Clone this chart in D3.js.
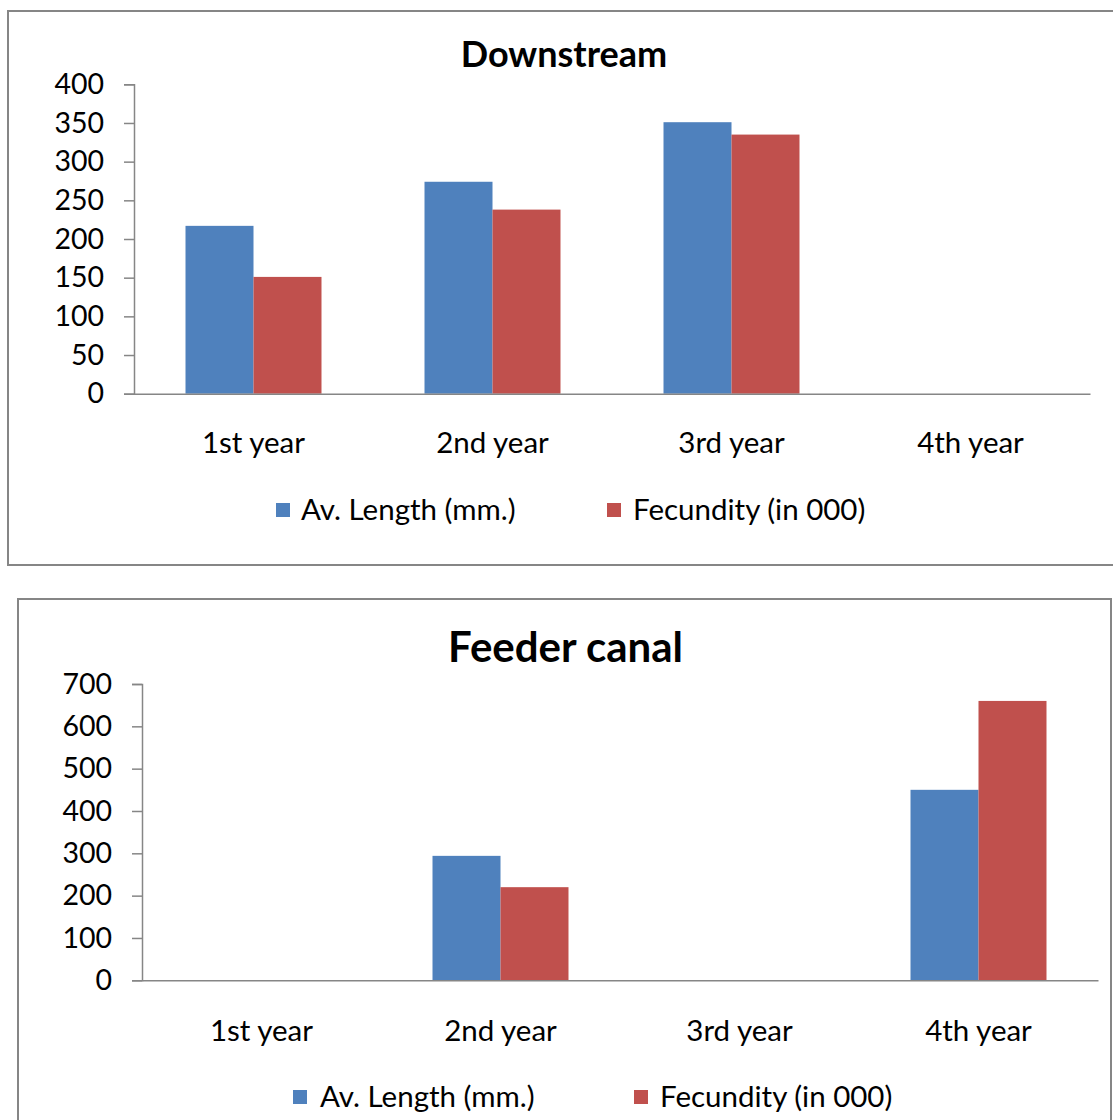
<!DOCTYPE html>
<html>
<head>
<meta charset="utf-8">
<script src="https://cdn.jsdelivr.net/npm/d3@7"></script>
<style>
  html, body { margin: 0; padding: 0; background: #fff; }
  svg { display: block; }
  text { font-family: Lato, "Open Sans", sans-serif; fill: #000; }
</style>
</head>
<body>
<svg id="chart" width="1113" height="1120"></svg>
<script>
// ---- data ----
const categories = ["1st year", "2nd year", "3rd year", "4th year"];
const seriesNames = ["Av. Length (mm.)", "Fecundity (in 000)"];
const seriesColors = ["#4F81BD", "#C0504D"];

const downstreamLength = [217, 274, 351, null];
const downstreamFecundity = [151, 238, 335, null];
const downstreamTicks = [0, 50, 100, 150, 200, 250, 300, 350, 400];

const feederLength = [null, 294, null, 450];
const feederFecundity = [null, 220, null, 660];
const feederTicks = [0, 100, 200, 300, 400, 500, 600, 700];

// ---- layout ----
const panels = [
  {
    title: "Downstream", titleSize: 36, titleX: 564, titleY: 67,
    box: [8, 11, 1120, 554],
    xLeft: 134, xRight: 1090, yTop: 84.3, yBottom: 393.7,
    ticks: downstreamTicks, series: [downstreamLength, downstreamFecundity],
    catY: 453, legendY: 510, legendItems: [[276, 301], [607, 633]]
  },
  {
    title: "Feeder canal", titleSize: 42, titleX: 565.5, titleY: 662,
    box: [18, 599, 1093, 560],
    xLeft: 142, xRight: 1098, yTop: 684, yBottom: 980.3,
    ticks: feederTicks, series: [feederLength, feederFecundity],
    catY: 1041, legendY: 1097, legendItems: [[293, 320], [634, 660]]
  }
];

const svg = d3.select("#chart");
const fontSize = 29.5;
const tickFontSize = 28.5;

panels.forEach(p => {
  const g = svg.append("g");
  // frame
  g.append("rect")
    .attr("x", p.box[0]).attr("y", p.box[1])
    .attr("width", p.box[2]).attr("height", p.box[3])
    .attr("fill", "#fff").attr("stroke", "#868686").attr("stroke-width", 2);

  const x0 = d3.scaleBand().domain(categories)
    .range([p.xLeft, p.xRight]).paddingInner(0.431).paddingOuter(0.2155);
  const x1 = d3.scaleBand().domain(d3.range(p.series.length))
    .range([0, x0.bandwidth()]);
  const y = d3.scaleLinear().domain([0, d3.max(p.ticks)])
    .range([p.yBottom, p.yTop]);

  // bars
  p.series.forEach((vals, si) => {
    g.append("g").selectAll("rect")
      .data(categories.map((c, i) => ({ c, v: vals[i] })).filter(d => d.v != null))
      .join("rect")
      .attr("x", d => x0(d.c) + x1(si))
      .attr("y", d => y(d.v))
      .attr("width", x1.bandwidth())
      .attr("height", d => y(0) - y(d.v))
      .attr("fill", seriesColors[si]);
  });

  // y axis
  const yAxis = d3.axisLeft(y).tickValues(p.ticks).tickSize(10).tickPadding(20)
    .tickFormat(d3.format("d"));
  const ya = g.append("g").attr("transform", `translate(${p.xLeft},0)`).call(yAxis);
  ya.select(".domain").attr("stroke", "#868686").attr("stroke-width", 1.5);
  ya.selectAll(".tick line").attr("stroke", "#868686").attr("stroke-width", 1.5);
  ya.selectAll(".tick text").attr("font-size", tickFontSize)
    .attr("font-family", "Lato, 'Open Sans', sans-serif").attr("fill", "#000");

  // x axis
  const xAxis = d3.axisBottom(x0).tickSize(0).tickSizeOuter(0).tickFormat("");
  const xa = g.append("g").attr("transform", `translate(0,${p.yBottom})`).call(xAxis);
  xa.select(".domain").attr("stroke", "#868686").attr("stroke-width", 1.5);

  // category labels
  g.append("g").selectAll("text").data(categories).join("text")
    .attr("x", d => x0(d) + x0.bandwidth() / 2)
    .attr("y", p.catY)
    .attr("text-anchor", "middle")
    .attr("font-size", fontSize)
    .text(d => d);

  // title
  g.append("text").attr("x", p.titleX).attr("y", p.titleY)
    .attr("text-anchor", "middle").attr("font-weight", "bold")
    .attr("font-size", p.titleSize).text(p.title);

  // legend
  seriesNames.forEach((name, si) => {
    const [sx, tx] = p.legendItems[si];
    g.append("rect").attr("x", sx).attr("y", p.legendY - 7)
      .attr("width", 14).attr("height", 14).attr("fill", seriesColors[si]);
    g.append("text").attr("x", tx).attr("y", p.legendY)
      .attr("dy", "0.35em").attr("font-size", fontSize).text(name);
  });
});
</script>
</body>
</html>
